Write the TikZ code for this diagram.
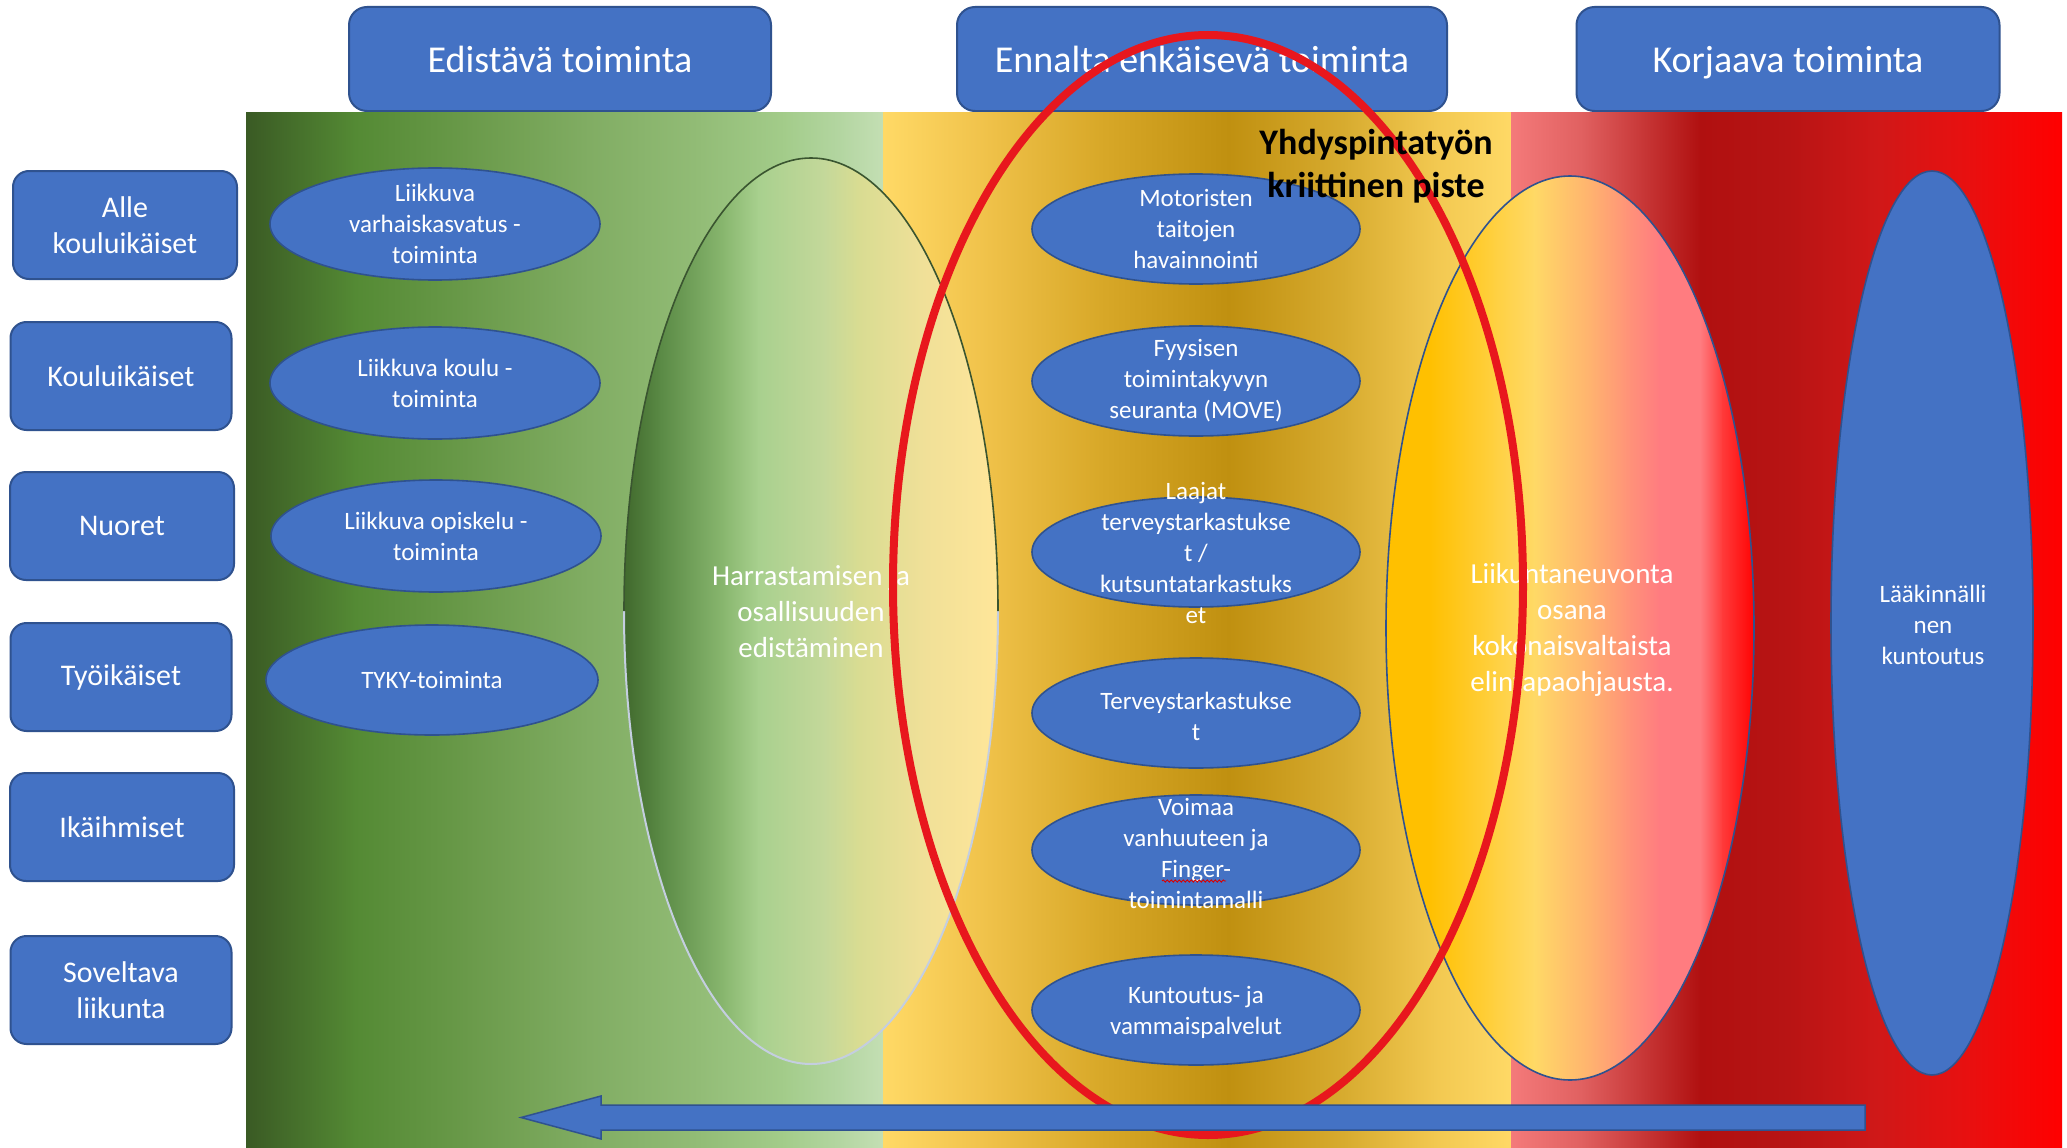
\documentclass[tikz,border=0pt]{standalone}
\usepackage{fontspec}
\setmainfont{Carlito}
\usetikzlibrary{shapes.geometric,decorations.pathmorphing}
\definecolor{boxblue}{HTML}{4472C4}
\definecolor{boxedge}{HTML}{2F528F}
\definecolor{critred}{HTML}{E8171D}
\definecolor{g0}{HTML}{3A5A24}
\definecolor{g1}{HTML}{548A34}
\definecolor{g2}{HTML}{6A9A4A}
\definecolor{g3}{HTML}{80AC62}
\definecolor{g4}{HTML}{92BC76}
\definecolor{g5}{HTML}{A3CC8A}
\definecolor{g6}{HTML}{B4D6A2}
\definecolor{g7}{HTML}{C4DFB4}
\definecolor{y0}{HTML}{FFD966}
\definecolor{y1}{HTML}{F0C24A}
\definecolor{y2}{HTML}{D8A828}
\definecolor{y3}{HTML}{C09010}
\definecolor{y4}{HTML}{D8AC30}
\definecolor{y5}{HTML}{F2C850}
\definecolor{r0}{HTML}{F47A7A}
\definecolor{r1}{HTML}{E06060}
\definecolor{r2}{HTML}{C83838}
\definecolor{r3}{HTML}{B01010}
\definecolor{r4}{HTML}{B81414}
\definecolor{r5}{HTML}{D01818}
\definecolor{r6}{HTML}{E81010}
\definecolor{r7}{HTML}{FF0000}
% green ellipse
\definecolor{h0}{HTML}{40682C}
\definecolor{h1}{HTML}{5A8A45}
\definecolor{h2}{HTML}{8AB870}
\definecolor{h3}{HTML}{A8D08E}
\definecolor{h4}{HTML}{C4D89A}
\definecolor{h5}{HTML}{D8DC92}
\definecolor{h6}{HTML}{F0E098}
\definecolor{h7}{HTML}{FFE699}
% orange ellipse
\definecolor{o0}{HTML}{FFC000}
\definecolor{o1}{HTML}{FFD040}
\definecolor{o2}{HTML}{FFD966}
\definecolor{o3}{HTML}{FFB070}
\definecolor{o4}{HTML}{FF9478}
\definecolor{o5}{HTML}{FF7C80}
\definecolor{o6}{HTML}{FF3A3A}
\definecolor{o7}{HTML}{FF0000}
\definecolor{harredgetop}{HTML}{3A5530}
\definecolor{harredgebot}{HTML}{C4CEE0}
\begin{document}
\begin{tikzpicture}[x=1pt,y=-1pt,
  hdr/.style={draw=boxedge, line width=2pt, fill=boxblue, rounded corners=18pt,
    minimum height=104, text=white, inner sep=0pt, text depth=0pt,
    font=\fontsize{38}{46}\selectfont},
  grp/.style={draw=boxedge, line width=2pt, fill=boxblue, rounded corners=16pt,
    minimum height=108, text=white, align=center, inner sep=0pt,
    font=\fontsize{30}{36.5}\selectfont},
  act/.style={draw=boxedge, line width=1.6pt, fill=boxblue, ellipse, inner sep=0pt,
    minimum width=330, minimum height=112},
  acttext/.style={text=white, align=center, inner sep=0pt,
    font=\fontsize{25}{31}\selectfont},
  bigtext/.style={text=white, align=center, inner sep=0pt,
    font=\fontsize{29}{36}\selectfont},
  ring/.style={ellipse, inner sep=0pt}
]
\useasboundingbox (0,0) rectangle (2067,1148);
\fill[white] (0,0) rectangle (2067,1148);

% header boxes
\node[hdr, minimum width=422] (hA) at (560,59) {Edistävä toiminta};
\node[hdr, minimum width=490] (hB) at (1202,59) {Ennalta ehkäisevä toiminta};
\node[hdr, minimum width=423] (hC) at (1788,59) {Korjaava toiminta};

% background band
\foreach \a/\b/\ca/\cb in {246/356/g0/g1, 355/470/g1/g2, 469/584/g2/g3, 583/699/g3/g4,
  698/785/g4/g5, 784/843/g5/g6, 842/884/g6/g7, 883/986/y0/y1, 985/1101/y1/y2,
  1100/1229/y2/y3, 1228/1347/y3/y4, 1346/1435/y4/y5, 1434/1512/y5/y0,
  1511/1583/r0/r1, 1582/1642/r1/r2, 1641/1701/r2/r3, 1700/1790/r3/r4,
  1789/1879/r4/r5, 1878/1967/r5/r6, 1966/2062/r6/r7}
  \shade[left color=\ca, right color=\cb] (\a,112) rectangle (\b,1148);

% target groups
\node[grp, minimum width=224] (gA) at (125,225) {Alle\\kouluikäiset};
\node[grp, minimum width=221] (gB) at (121,376) {Kouluikäiset};
\node[grp, minimum width=224] (gC) at (122,526) {Nuoret};
\node[grp, minimum width=221] (gD) at (121,677) {Työikäiset};
\node[grp, minimum width=224] (gE) at (122,827) {Ikäihmiset};
\node[grp, minimum width=221] (gF) at (121,990) {Soveltava\\liikunta};

% promoting activities
\node[act] (lA) at (435,224) {};
\node[acttext] at (lA) {Liikkuva\\varhaiskasvatus -\\toiminta};
\node[act] (lB) at (435,383) {};
\node[acttext] at (lB) {Liikkuva koulu -\\toiminta};
\node[act] (lC) at (436,536) {};
\node[acttext] at (lC) {Liikkuva opiskelu -\\toiminta};
\node[act, minimum width=332, minimum height=110] (lD) at (432,680) {};
\node[acttext] at (lD) {TYKY-toiminta};

% hobbies ellipse
\begin{scope}
  \clip (811,611) ellipse [x radius=187, y radius=453];
  \foreach \a/\b/\ca/\cb in {623/661/h0/h1, 660/726/h1/h2, 725/759/h2/h3, 758/825/h3/h4,
    824/858/h4/h5, 857/924/h5/h6, 923/999/h6/h7}
    \shade[left color=\ca, right color=\cb] (\a,150) rectangle (\b,1070);
\end{scope}
\node[ring, minimum width=374, minimum height=906] (harr) at (811,611) {};
\coordinate (harrW) at (624,611);
\draw[harredgebot, line width=2pt] (harrW) arc[start angle=180, end angle=360, x radius=187, y radius=-453];
\draw[harredgetop, line width=1.6pt] (harrW) arc[start angle=180, end angle=0, x radius=187, y radius=-453];
\node[bigtext] (harrT) at (811,612) {Harrastamisen ja\\osallisuuden\\edistäminen};

% preventive activities
\node[act, minimum width=328, minimum height=110] (mA) at (1196,229) {};
\node[acttext] at (mA) {Motoristen\\taitojen\\havainnointi};
\node[act, minimum width=328, minimum height=110] (mB) at (1196,381) {};
\node[acttext] at (mB) {Fyysisen\\toimintakyvyn\\seuranta (MOVE)};
\node[act, minimum width=328, minimum height=110] (mC) at (1196,552) {};
\node[acttext] at (1196,553) {Laajat\\terveystarkastukse\\t /\\kutsuntatarkastuks\\et};
\node[act, minimum width=328, minimum height=110] (mD) at (1196,713) {};
\node[acttext] at (1196,716) {Terveystarkastukse\\t};
\node[act, minimum width=328, minimum height=110] (mE) at (1196,850) {};
\node[acttext] (mEt) at (1196,853) {Voimaa\\vanhuuteen ja\\Finger-\\toimintamalli};
\draw[red!85!black, line width=0.9pt, decorate, decoration={snake, amplitude=1.1pt, segment length=4pt}]
  (1162,881) -- (1226,881);
\node[act, minimum width=328, minimum height=110] (mF) at (1196,1010) {};
\node[acttext] at (1196,1012) {Kuntoutus- ja\\vammaispalvelut};

% counselling ellipse
\begin{scope}
  \clip (1570,628) ellipse [x radius=184, y radius=452];
  \foreach \a/\b/\ca/\cb in {1385/1430/o0/o0, 1429/1495/o0/o1, 1494/1535/o1/o2, 1534/1594/o2/o3,
    1593/1627/o3/o4, 1626/1660/o4/o5, 1659/1701/o5/o5, 1700/1723/o5/o6, 1722/1756/o6/o7}
    \shade[left color=\ca, right color=\cb] (\a,170) rectangle (\b,1085);
\end{scope}
\node[ring, draw=boxedge, line width=1.6pt, minimum width=368, minimum height=904] (neuv) at (1570,628) {};
\node[bigtext] at (1572,630) {Liikuntaneuvonta\\osana\\kokonaisvaltaista\\elintapaohjausta.};

% medical rehabilitation
\node[ring, draw=boxedge, line width=1.6pt, fill=boxblue, minimum width=202, minimum height=904] (laak) at (1932,623) {};
\node[acttext] at (1933,625) {Lääkinnälli\\nen\\kuntoutus};

% critical point ring
\node[ring, draw=critred, line width=8pt, minimum width=630, minimum height=1100] (crit) at (1208,585) {};
\node[align=center, inner sep=0pt, font=\fontsize{36}{43}\bfseries\selectfont] (critT) at (1376,166) {Yhdyspintatyön\\kriittinen piste};

% arrow
\draw[fill=boxblue, draw=boxedge, line width=1.5pt, line join=miter]
  (1865,1105) -- (601,1105) -- (601,1096) -- (521,1117.5) -- (601,1139) -- (601,1130) -- (1865,1130) -- cycle;
\end{tikzpicture}
\end{document}
